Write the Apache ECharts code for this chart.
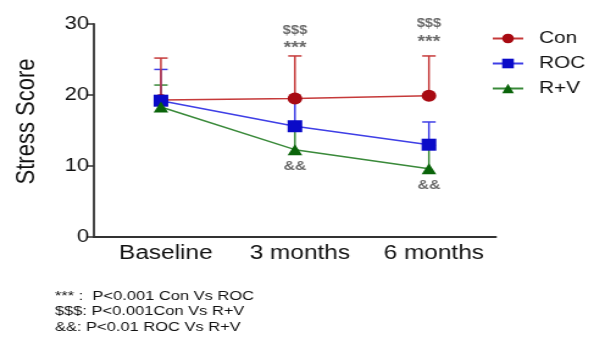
<!DOCTYPE html>
<html><head><meta charset="utf-8">
<script src="https://cdn.jsdelivr.net/npm/echarts@6/dist/echarts.min.js"></script>
<style>
html,body{margin:0;padding:0;background:#fff;overflow:hidden;width:594px;height:338px}
#c{width:487px;height:338px;transform:scaleX(1.2197);transform-origin:0 0}
</style>
</head><body><div id="c"></div>
<script>
const categories = ['Baseline', '3 months', '6 months'];
const seriesNames = ['Con', 'ROC', 'R+V'];
const conMean = [19.3, 19.5, 19.9];
const conUpper = [25.2, 25.5, 25.5];
const rocMean = [19.2, 15.6, 13.0];
const rocUpper = [23.6, 19.4, 16.2];
const rvMean = [18.3, 12.3, 9.6];
const rvUpper = [21.4, 15.5, 12.9];
const yTicks = [0, 10, 20, 30];
const annotCats = ['3 months', '3 months', '6 months', '6 months', '3 months', '6 months'];
const annotValues = [29.0, 26.5, 30.1, 27.4, 10.0, 7.3];
const annotTexts = ['$$$', '***', '$$$', '***', '&&', '&&'];
const footnotes = ['*** :  P<0.001 Con Vs ROC', '$$$: P<0.001Con Vs R+V', '&&: P<0.01 ROC Vs R+V'];

const FONT = 'Liberation Sans, Arial, sans-serif';
const lineColors = ['#c63a3a', '#3f3fe6', '#3a8a3a'];
const markColors = ['#a80a12', '#0a0ac8', '#0a640a'];
const symbols = ['circle', 'rect', 'triangle'];
const means = [conMean, rocMean, rvMean];
const uppers = [conUpper, rocUpper, rvUpper];

const chart = echarts.init(document.getElementById('c'), null, {renderer: 'canvas'});

const series = [];
for (let s = 2; s >= 0; s--) {
  series.push({
    type: 'custom',
    name: seriesNames[s] + ' err',
    z: 1,
    silent: true,
    data: categories.map((c, i) => [i, means[s][i], uppers[s][i]]),
    renderItem: (params, api) => {
      const x = api.value(0);
      const p0 = api.coord([x, api.value(1)]);
      const p1 = api.coord([x, api.value(2)]);
      const hw = 5.5;
      const st = {stroke: lineColors[s], lineWidth: 1.5};
      return {type: 'group', children: [
        {type: 'line', shape: {x1: p0[0], y1: p0[1], x2: p1[0], y2: p1[1]}, style: st},
        {type: 'line', shape: {x1: p1[0] - hw, y1: p1[1], x2: p1[0] + hw, y2: p1[1]}, style: st}
      ]};
    }
  });
}
for (let s = 0; s < 3; s++) {
  series.push({
    type: 'line',
    name: seriesNames[s],
    z: 3 + s,
    data: means[s],
    symbol: symbols[s],
    symbolSize: s === 2 ? [12, 11] : 12,
    showAllSymbol: true,
    lineStyle: {color: lineColors[s], width: 1.5},
    itemStyle: {color: markColors[s], borderWidth: 0},
    emphasis: {disabled: true}
  });
}
series.push({
  type: 'scatter',
  name: 'annot',
  z: 10,
  clip: false,
  symbolSize: 0,
  silent: true,
  data: annotCats.map((c, i) => ({
    value: [c, annotValues[i]],
    label: {
      show: true, position: 'inside',
      formatter: annotTexts[i],
      fontSize: annotTexts[i] === '***' ? 16 : (annotTexts[i] === '&&' ? 13 : 12),
      fontWeight: 'bold',
      color: '#444',
      fontFamily: FONT
    }
  }))
});

chart.setOption({
  animation: false,
  backgroundColor: '#fff',
  grid: {left: 77, right: 80.4, top: 24, bottom: 101, containLabel: false},
  legend: {
    orient: 'vertical', left: 398, top: 25,
    itemWidth: 25, itemHeight: 12, itemGap: 8,
    data: seriesNames,
    textStyle: {fontSize: 17, color: '#111', fontFamily: FONT, lineHeight: 17, padding: [0, 0, 0, 8]}
  },
  xAxis: {
    type: 'category',
    data: categories,
    boundaryGap: true,
    axisLine: {lineStyle: {color: '#333', width: 1.8}},
    axisTick: {alignWithLabel: true, length: 5, lineStyle: {color: '#333', width: 1.5}},
    axisLabel: {fontSize: 20, color: '#111', fontFamily: FONT, margin: 6, padding: [0, 0, 0, 8]}
  },
  yAxis: {
    type: 'value',
    min: yTicks[0], max: yTicks[yTicks.length - 1], interval: 10,
    name: 'Stress Score',
    nameLocation: 'middle',
    nameGap: 44,
    nameTextStyle: {fontSize: 22, color: '#111', fontFamily: FONT, padding: [0, 0, 0, 18]},
    splitLine: {show: false},
    axisLine: {show: true, lineStyle: {color: '#333', width: 1.8}},
    axisTick: {show: true, length: 5, lineStyle: {color: '#333', width: 1.5}},
    axisLabel: {fontSize: 18, color: '#111', fontFamily: FONT, margin: 4}
  },
  graphic: footnotes.map((t, i) => ({
    type: 'text',
    left: 45,
    top: 289 + i * 15.5,
    style: {text: t, fontSize: 13.5, fontFamily: FONT, fill: '#111'}
  })),
  series: series
});
</script>
</body></html>
